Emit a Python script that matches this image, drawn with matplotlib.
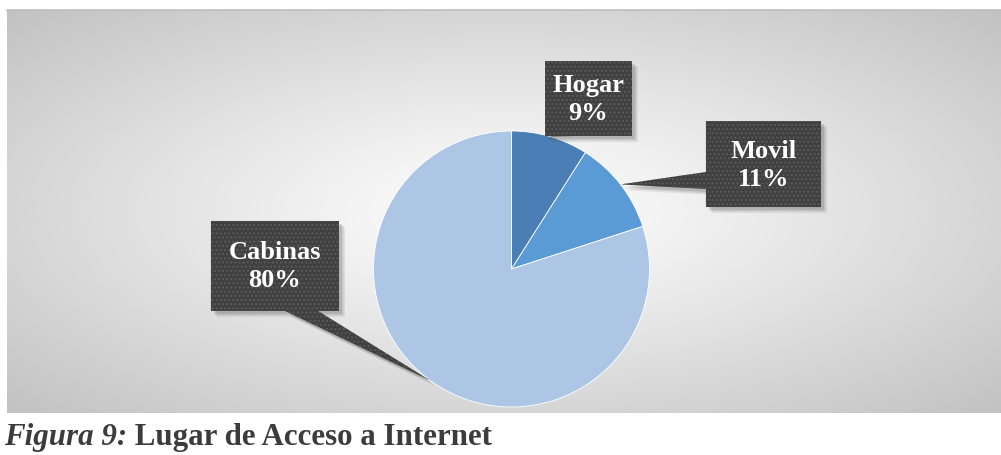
import numpy as np
import matplotlib
matplotlib.use("Agg")
import matplotlib.pyplot as plt
from matplotlib.patches import Polygon

# ---- data ----
categories = ["Hogar", "Movil", "Cabinas"]
values = [9, 11, 80]
colors = ["#4a7eb4", "#5a9bd5", "#adc6e5"]
title_italic = "Figura 9:"
title_rest = " Lugar de Acceso a Internet"

W, H = 1001, 456
fig = plt.figure(figsize=(W / 100, H / 100), dpi=100)
fig.patch.set_facecolor("white")

# ---- background gradient (chart area) ----
x0, y0t, x1, y1t = 7, 11, 1001, 414
ax_bg = fig.add_axes([x0 / W, (H - y1t) / H, (x1 - x0) / W, (y1t - y0t) / H])
gx = np.linspace(-1, 1, 600)
gy = np.linspace(-1, 1, 300)
XX, YY = np.meshgrid(gx, gy)
r = np.sqrt(XX ** 2 + YY ** 2) / np.sqrt(2)
g = 1.0 - 0.24 * np.clip(r, 0, 1) ** 1.1
img = np.dstack([g, g, g])
ax_bg.imshow(img, aspect="auto", extent=[0, 1, 0, 1], interpolation="bilinear")
ax_bg.set_xlim(0, 1)
ax_bg.set_ylim(0, 1)
ax_bg.axis("off")
ax_bg.plot([0, 1], [1, 1], color="#bdbdbd", lw=1.2, transform=ax_bg.transAxes, clip_on=False)

# ---- pie ----
cx, cy, R = 511.5, 270, 138
ax = fig.add_axes([(cx - R) / W, (H - cy - R) / H, 2 * R / W, 2 * R / H])
wedges, _ = ax.pie(values, colors=colors, startangle=90, counterclock=False,
                   wedgeprops=dict(edgecolor="white", linewidth=0.6), radius=1.0)
ax.set_xlim(-1, 1)
ax.set_ylim(-1, 1)
ax.set_aspect("equal")
ax.axis("off")

matplotlib.rcParams["hatch.linewidth"] = 1.0

# callout boxes (layout, in pie data units): left, right, bottom, top, tail side, tail base range
boxes = {
    "Hogar":   dict(l=0.243, r=0.873, b=0.964, t=1.507, side="bottom", base=(0.30, 0.48)),
    "Movil":   dict(l=1.409, r=2.243, b=0.449, t=1.072, side="left", base=(0.58, 0.703)),
    "Cabinas": dict(l=-2.178, r=-1.25, b=-0.304, t=0.348, side="bottom", base=(-1.641, -1.402)),
}

total = sum(values)
cum = 0
for cat, v in zip(categories, values):
    mid = 90 - (cum + v / 2) / total * 360
    cum += v
    tip = (np.cos(np.radians(mid)) * 1.0, np.sin(np.radians(mid)) * 1.0)
    bx = boxes[cat]
    l, rr, b, t = bx["l"], bx["r"], bx["b"], bx["t"]
    b0, b1 = bx["base"]
    if bx["side"] == "bottom":
        pts = [(l, t), (rr, t), (rr, b), (b1, b), tip, (b0, b), (l, b)]
    else:  # left
        pts = [(l, t), (rr, t), (rr, b), (l, b), (l, b0), tip, (l, b1)]
    # shadow
    for k, a in [(6, 0.10), (4.5, 0.14), (3, 0.18)]:
        d = k / R
        sh = Polygon([(px + d, py - d) for px, py in pts], closed=True,
                     facecolor="#555555", edgecolor="none", alpha=a, clip_on=False, zorder=4)
        ax.add_patch(sh)
    poly = Polygon(pts, closed=True, facecolor="#404040", edgecolor="#5a5a5a",
                   linewidth=0, hatch="....", clip_on=False, zorder=5)
    ax.add_patch(poly)
    ax.text((l + rr) / 2, (b + t) / 2, f"{cat}\n{v}%", ha="center", va="center",
            color="white", fontsize=19, fontweight="bold", family="Liberation Serif",
            linespacing=1.28, zorder=6, clip_on=False)

# ---- title ----
t1 = fig.text(4 / W, (H - 445) / H, title_italic, fontsize=22.3, fontweight="bold",
              fontstyle="italic", family="Liberation Serif", color="#3c3c3c", va="baseline")
fig.canvas.draw()
bb = t1.get_window_extent()
fig.text(bb.x1 / W, (H - 445) / H, title_rest, fontsize=22.3, fontweight="bold",
         family="Liberation Serif", color="#3c3c3c", va="baseline")

fig.savefig("out.png", dpi=100)
